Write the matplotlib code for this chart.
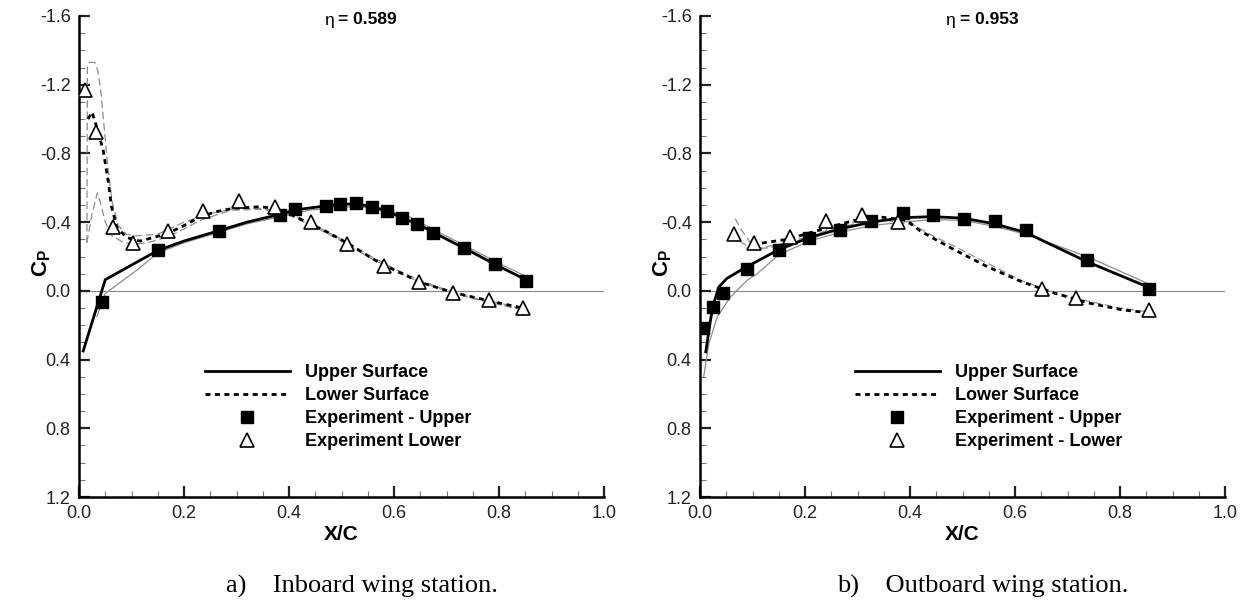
import numpy as np
import matplotlib
matplotlib.use("Agg")
import matplotlib.pyplot as plt
from matplotlib.lines import Line2D
from matplotlib.ticker import MultipleLocator, FormatStrFormatter

plt.rcParams['font.family'] = ['Liberation Sans', 'DejaVu Sans']
plt.rcParams['axes.unicode_minus'] = False
plt.rcParams['mathtext.fontset'] = 'custom'
plt.rcParams['mathtext.rm'] = 'Liberation Sans'
plt.rcParams['mathtext.bf'] = 'Liberation Sans:bold'

# ---------------- DATA: inboard station (eta = 0.589) ---------------- #
in_exp_up_x = [0.043, 0.150, 0.266, 0.382, 0.411, 0.470, 0.498, 0.528, 0.558, 0.586,
               0.615, 0.644, 0.674, 0.733, 0.792, 0.851]
in_exp_up_cp = [0.066, -0.235, -0.351, -0.442, -0.475, -0.495, -0.505, -0.510, -0.487, -0.462,
                -0.423, -0.388, -0.336, -0.249, -0.155, -0.060]
in_exp_lo_x = [0.011, 0.033, 0.064, 0.102, 0.169, 0.237, 0.304, 0.373, 0.441, 0.510,
               0.580, 0.647, 0.713, 0.781, 0.846]
in_exp_lo_cp = [-1.17, -0.927, -0.374, -0.281, -0.351, -0.467, -0.522, -0.491, -0.403, -0.272,
                -0.147, -0.049, 0.010, 0.052, 0.101]

in_up_x = [0.008, 0.050, 0.100, 0.150, 0.200, 0.266, 0.320, 0.382, 0.410, 0.470, 0.500, 0.530,
           0.560, 0.590, 0.615, 0.645, 0.675, 0.733, 0.792, 0.851]
in_up_cp = [0.35, -0.065, -0.15, -0.235, -0.29, -0.35, -0.40, -0.445, -0.47, -0.495, -0.505, -0.505,
            -0.49, -0.46, -0.425, -0.39, -0.34, -0.25, -0.155, -0.065]
in_lo_x = [0.017, 0.025, 0.033, 0.046, 0.056, 0.062, 0.072, 0.091, 0.116, 0.166, 0.200, 0.230,
           0.260, 0.293, 0.344, 0.375, 0.401, 0.440, 0.465, 0.510, 0.574, 0.650, 0.713, 0.777, 0.845]
in_lo_cp = [-1.00, -1.04, -0.96, -0.82, -0.63, -0.49, -0.37, -0.31, -0.29, -0.33, -0.38, -0.43,
            -0.46, -0.48, -0.49, -0.48, -0.45, -0.39, -0.355, -0.28, -0.16, -0.05, 0.01, 0.055, 0.10]

in_up2_x = [0.034, 0.050, 0.110, 0.150, 0.200, 0.266, 0.320, 0.380, 0.440, 0.500, 0.550, 0.600,
            0.630, 0.680, 0.740, 0.800, 0.851]
in_up2_cp = [0.15, 0.015, -0.12, -0.22, -0.28, -0.34, -0.39, -0.43, -0.47, -0.49, -0.485, -0.455,
             -0.43, -0.35, -0.255, -0.16, -0.085]
in_lo2_x = [0.015, 0.016, 0.020, 0.030, 0.036, 0.042, 0.048, 0.055, 0.063, 0.075, 0.090, 0.110,
            0.150, 0.200, 0.250, 0.300, 0.350, 0.400, 0.450, 0.500, 0.550, 0.600, 0.650, 0.700,
            0.750, 0.800, 0.850]
in_lo2_cp = [-0.28, -1.30, -1.33, -1.33, -1.28, -1.15, -0.95, -0.72, -0.52, -0.38, -0.33, -0.32,
             -0.33, -0.40, -0.45, -0.48, -0.48, -0.45, -0.38, -0.30, -0.21, -0.13, -0.06, -0.005,
             0.04, 0.07, 0.11]
in_lo3_x = [0.015, 0.025, 0.035, 0.042, 0.050, 0.063, 0.080, 0.100, 0.130, 0.166, 0.200, 0.230,
            0.290, 0.350, 0.400, 0.450, 0.500, 0.550, 0.600, 0.650, 0.700, 0.750, 0.800, 0.850]
in_lo3_cp = [-0.28, -0.45, -0.57, -0.50, -0.40, -0.32, -0.29, -0.27, -0.28, -0.31, -0.36, -0.41,
             -0.47, -0.475, -0.44, -0.37, -0.29, -0.20, -0.12, -0.05, 0.00, 0.045, 0.08, 0.115]

# ---------------- DATA: outboard station (eta = 0.953) ---------------- #
out_exp_up_x = [0.005, 0.024, 0.044, 0.090, 0.150, 0.208, 0.266, 0.326, 0.386, 0.443,
                0.502, 0.561, 0.620, 0.737, 0.855]
out_exp_up_cp = [0.219, 0.093, 0.015, -0.126, -0.235, -0.305, -0.355, -0.409, -0.452, -0.442,
                 -0.419, -0.409, -0.355, -0.181, -0.010]
out_exp_lo_x = [0.065, 0.103, 0.171, 0.240, 0.308, 0.377, 0.651, 0.717, 0.855]
out_exp_lo_cp = [-0.330, -0.277, -0.316, -0.409, -0.442, -0.398, -0.010, 0.039, 0.114]

out_up_x = [0.011, 0.020, 0.026, 0.036, 0.051, 0.083, 0.150, 0.208, 0.266, 0.326, 0.386, 0.443,
            0.502, 0.561, 0.620, 0.737, 0.855]
out_up_cp = [0.355, 0.17, 0.073, -0.023, -0.072, -0.13, -0.24, -0.31, -0.36, -0.40, -0.426, -0.432,
             -0.423, -0.39, -0.34, -0.17, -0.02]
out_lo_x = [0.100, 0.166, 0.229, 0.293, 0.344, 0.394, 0.419, 0.448, 0.484, 0.548, 0.612, 0.675,
            0.739, 0.803, 0.860]
out_lo_cp = [-0.27, -0.30, -0.355, -0.41, -0.43, -0.41, -0.35, -0.30, -0.24, -0.14, -0.054, 0.013,
             0.07, 0.11, 0.13]

out_up2_x = [0.007, 0.017, 0.033, 0.058, 0.090, 0.109, 0.150, 0.208, 0.266, 0.326, 0.386, 0.443,
             0.502, 0.561, 0.620, 0.737, 0.855]
out_up2_cp = [0.50, 0.306, 0.151, 0.035, -0.062, -0.10, -0.21, -0.29, -0.34, -0.38, -0.40, -0.415,
              -0.41, -0.375, -0.33, -0.20, -0.04]
out_lo2_x = [0.067, 0.080, 0.096, 0.115, 0.166, 0.229, 0.293, 0.357, 0.408, 0.450, 0.484, 0.548,
             0.612, 0.675, 0.739, 0.800, 0.860]
out_lo2_cp = [-0.42, -0.35, -0.28, -0.25, -0.28, -0.34, -0.40, -0.41, -0.38, -0.31, -0.26, -0.16,
              -0.06, 0.01, 0.06, 0.10, 0.125]
out_lo3_x = [0.062, 0.080, 0.100, 0.130, 0.166, 0.229, 0.293]
out_lo3_cp = [-0.34, -0.28, -0.245, -0.25, -0.27, -0.33, -0.39]

panels = [
    dict(eta="0.589", caption="a)    Inboard wing station.", lower_label="Experiment Lower",
         up=(in_up_x, in_up_cp), lo=(in_lo_x, in_lo_cp),
         up2=[(in_up2_x, in_up2_cp)], lo2=[(in_lo2_x, in_lo2_cp), (in_lo3_x, in_lo3_cp)],
         eu=(in_exp_up_x, in_exp_up_cp), el=(in_exp_lo_x, in_exp_lo_cp), leg_x=0.24),
    dict(eta="0.953", caption="b)    Outboard wing station.", lower_label="Experiment - Lower",
         up=(out_up_x, out_up_cp), lo=(out_lo_x, out_lo_cp),
         up2=[(out_up2_x, out_up2_cp)], lo2=[(out_lo2_x, out_lo2_cp), (out_lo3_x, out_lo3_cp)],
         eu=(out_exp_up_x, out_exp_up_cp), el=(out_exp_lo_x, out_exp_lo_cp), leg_x=0.295),
]

# ---------------- PLOT ---------------- #
fig = plt.figure(figsize=(12.47, 6.03), dpi=100)
lefts = [79 / 1247, 700 / 1247]
W, B, H = 525 / 1247, 1 - 497 / 603, 481 / 603
dash = (0, (1.8, 1.6))

for left, p in zip(lefts, panels):
    ax = fig.add_axes([left, B, W, H])

    ax.plot([0, 1], [0, 0], color='#888888', lw=0.8, zorder=1)
    for xs, ys in p['up2']:
        ax.plot(xs, ys, color='#8c8c8c', lw=0.9, zorder=2)
    for xs, ys in p['lo2']:
        ax.plot(xs, ys, color='#8c8c8c', lw=0.9, ls=(0, (6, 3)), zorder=2)
    ax.plot(*p['up'], color='black', lw=2.0, zorder=3)
    ax.plot(*p['lo'], color='black', lw=2.0, ls=dash, zorder=3)
    ax.plot(*p['eu'], ls='none', marker='s', ms=8, color='black', zorder=5)
    ax.plot(*p['el'], ls='none', marker='^', ms=10.5, mfc='white', mec='black', mew=1.2, zorder=5)

    ax.set_xlim(0, 1.0)
    ax.set_ylim(1.2, -1.6)
    ax.xaxis.set_major_locator(MultipleLocator(0.2))
    ax.xaxis.set_minor_locator(MultipleLocator(0.05))
    ax.yaxis.set_major_locator(MultipleLocator(0.4))
    ax.yaxis.set_minor_locator(MultipleLocator(0.1))
    ax.xaxis.set_major_formatter(FormatStrFormatter('%.1f'))
    ax.yaxis.set_major_formatter(FormatStrFormatter('%.1f'))
    ax.tick_params(which='major', direction='in', length=8, width=1.6, labelsize=13, pad=6,
                   colors='#222222', top=False, right=False)
    ax.tick_params(which='minor', direction='in', length=4.5, width=0.8, color='#777777',
                   top=False, right=False)
    for side in ['top', 'right']:
        ax.spines[side].set_visible(False)
    for side in ['left', 'bottom']:
        ax.spines[side].set_linewidth(1.8)
    ax.set_xlabel('X/C', fontsize=15, fontweight='bold', labelpad=2)
    ax.set_ylabel(r'$\mathbf{C_P}$', fontsize=16)
    ax.yaxis.set_label_coords(-0.05, 0.486)

    handles = [
        Line2D([], [], color='black', lw=2.0),
        Line2D([], [], color='black', lw=2.0, ls=dash),
        Line2D([], [], ls='none', marker='s', ms=8, color='black'),
        Line2D([], [], ls='none', marker='^', ms=10.5, mfc='white', mec='black', mew=1.2),
    ]
    labels = ['Upper Surface', 'Lower Surface', 'Experiment - Upper', p['lower_label']]
    ax.legend(handles, labels, loc='upper left', bbox_to_anchor=(p['leg_x'], 0.2765),
              frameon=False, prop={'weight': 'bold', 'size': 13}, handlelength=4.7,
              handletextpad=0.83, labelspacing=0.33, borderpad=0, borderaxespad=0)

    cx = left + 0.5 * W
    fig.text(cx - 8 / 1247, 1 - 20 / 603, u'\u03b7', fontsize=12.5, ha='right', va='center')
    fig.text(cx - 3 / 1247, 1 - 20 / 603, '= ' + p['eta'], fontsize=12.5, fontweight='bold',
             ha='left', va='center')
    fig.text(cx + 0.016, 1 - 586 / 603, p['caption'], fontsize=19, family='Liberation Serif',
             ha='center', va='center')

plt.savefig('out.png', dpi=100)
